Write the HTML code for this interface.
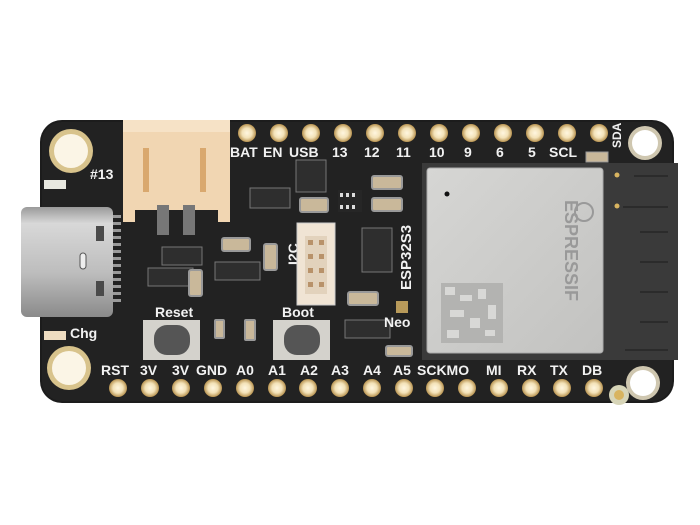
<!DOCTYPE html>
<html><head><meta charset="utf-8"><style>
html,body{margin:0;padding:0;background:#fff;width:700px;height:525px;overflow:hidden}
svg{display:block}
.l{font-family:"Liberation Sans",sans-serif;font-weight:bold;fill:#f2f2f2;font-size:14px}
</style></head><body>
<svg width="700" height="525" viewBox="0 0 700 525" xmlns="http://www.w3.org/2000/svg">
<defs>
<radialGradient id="pad" cx="50%" cy="50%" r="50%"><stop offset="0" stop-color="#fff6e0"/><stop offset="0.55" stop-color="#f3e2b8"/><stop offset="1" stop-color="#b89350"/></radialGradient>
<linearGradient id="usb" x1="0" y1="0" x2="0" y2="1"><stop offset="0" stop-color="#9a9a9a"/><stop offset="0.15" stop-color="#d8d8d8"/><stop offset="0.6" stop-color="#bdbdbd"/><stop offset="1" stop-color="#8a8a8a"/></linearGradient>
<linearGradient id="can" x1="0" y1="0" x2="1" y2="1"><stop offset="0" stop-color="#d6d6d4"/><stop offset="1" stop-color="#c2c2c0"/></linearGradient>
</defs>
<rect x="40" y="120" width="634" height="283" rx="22" fill="#1c1c1c"/>
<rect x="42" y="122" width="630" height="279" rx="20" fill="#222"/>
<g>
<circle cx="71" cy="151" r="22" fill="#d8c38c"/><circle cx="71" cy="151" r="17" fill="#fbf5e6"/>
<circle cx="69" cy="368" r="22" fill="#d8c38c"/><circle cx="69" cy="368" r="17" fill="#fbf5e6"/>
<circle cx="645" cy="143" r="17" fill="#cfc7b0"/><circle cx="645" cy="143" r="13" fill="#fff"/>
<circle cx="643" cy="383" r="17" fill="#cfc7b0"/><circle cx="643" cy="383" r="13" fill="#fff"/>
<circle cx="619" cy="395" r="10" fill="#d7d5b8"/><circle cx="619" cy="395" r="5" fill="#d8b460"/>
</g>
<g fill="url(#pad)">
<circle cx="247" cy="133" r="9"/><circle cx="279" cy="133" r="9"/><circle cx="311" cy="133" r="9"/><circle cx="343" cy="133" r="9"/><circle cx="375" cy="133" r="9"/><circle cx="407" cy="133" r="9"/><circle cx="439" cy="133" r="9"/><circle cx="471" cy="133" r="9"/><circle cx="503" cy="133" r="9"/><circle cx="535" cy="133" r="9"/><circle cx="567" cy="133" r="9"/><circle cx="599" cy="133" r="9"/>
</g>
<g fill="url(#pad)">
<circle cx="118" cy="388" r="9"/><circle cx="150" cy="388" r="9"/><circle cx="181" cy="388" r="9"/><circle cx="213" cy="388" r="9"/><circle cx="245" cy="388" r="9"/><circle cx="277" cy="388" r="9"/><circle cx="308" cy="388" r="9"/><circle cx="340" cy="388" r="9"/><circle cx="372" cy="388" r="9"/><circle cx="404" cy="388" r="9"/><circle cx="435" cy="388" r="9"/><circle cx="467" cy="388" r="9"/><circle cx="499" cy="388" r="9"/><circle cx="531" cy="388" r="9"/><circle cx="562" cy="388" r="9"/><circle cx="594" cy="388" r="9"/>
</g>
<!-- chips (drawn before labels) -->
<g fill="#2e2e2e" stroke="#777" stroke-width="1">
<rect x="250" y="188" width="40" height="20"/><rect x="162" y="247" width="40" height="18"/><rect x="148" y="268" width="45" height="18"/><rect x="215" y="262" width="45" height="18"/>
<rect x="296" y="160" width="30" height="32"/><rect x="362" y="228" width="30" height="44"/><rect x="345" y="320" width="45" height="18"/>
</g>
<g class="l">
<text x="230" y="157">BAT</text><text x="263" y="157">EN</text><text x="289" y="157">USB</text><text x="332" y="157">13</text><text x="364" y="157">12</text><text x="396" y="157">11</text>
<text x="429" y="157">10</text><text x="464" y="157">9</text><text x="496" y="157">6</text><text x="528" y="157">5</text><text x="549" y="157">SCL</text>
<text transform="translate(621,148) rotate(-90)" font-size="12">SDA</text>
<text x="90" y="179">#13</text><text x="70" y="338">Chg</text>
<text x="155" y="317">Reset</text><text x="282" y="317">Boot</text>
<text x="384" y="327">Neo</text>
<text transform="translate(298,265) rotate(-90)">I2C</text>
<text transform="translate(411,290) rotate(-90)" font-size="15">ESP32S3</text>
</g>
<g class="l" font-size="15">
<text x="101" y="375">RST</text><text x="140" y="375">3V</text><text x="172" y="375">3V</text><text x="196" y="375">GND</text><text x="236" y="375">A0</text><text x="268" y="375">A1</text><text x="300" y="375">A2</text><text x="331" y="375">A3</text><text x="363" y="375">A4</text><text x="393" y="375">A5</text><text x="417" y="375">SCKMO</text><text x="486" y="375">MI</text><text x="517" y="375">RX</text><text x="550" y="375">TX</text><text x="582" y="375">DB</text>
</g>
<rect x="21" y="207" width="92" height="110" rx="6" fill="url(#usb)"/>
<rect x="96" y="226" width="8" height="15" fill="#4a4a4a"/><rect x="96" y="281" width="8" height="15" fill="#4a4a4a"/>
<rect x="80" y="253" width="6" height="16" rx="3" fill="#eee" stroke="#555"/>
<g fill="#9a9a9a"><rect x="113" y="215" width="8" height="3"/><rect x="113" y="222" width="8" height="3"/><rect x="113" y="229" width="8" height="3"/><rect x="113" y="236" width="8" height="3"/><rect x="113" y="243" width="8" height="3"/><rect x="113" y="250" width="8" height="3"/><rect x="113" y="257" width="8" height="3"/><rect x="113" y="264" width="8" height="3"/><rect x="113" y="271" width="8" height="3"/><rect x="113" y="278" width="8" height="3"/><rect x="113" y="285" width="8" height="3"/><rect x="113" y="292" width="8" height="3"/><rect x="113" y="299" width="8" height="3"/></g>
<rect x="44" y="180" width="22" height="9" fill="#e8e8e0"/><rect x="44" y="331" width="22" height="9" fill="#eedcc0"/>
<rect x="123" y="120" width="107" height="90" fill="#f1d6b2"/>
<rect x="123" y="120" width="107" height="12" fill="#f6e2c6"/>
<rect x="143" y="148" width="6" height="44" fill="#d9a86e"/><rect x="200" y="148" width="6" height="44" fill="#d9a86e"/>
<rect x="123" y="200" width="12" height="22" fill="#f1d6b2"/><rect x="218" y="200" width="12" height="22" fill="#f1d6b2"/>
<rect x="157" y="205" width="12" height="30" fill="#777"/><rect x="183" y="205" width="12" height="30" fill="#777"/>
<g fill="#c9b89a" stroke="#999" stroke-width="2">
<rect x="300" y="198" width="28" height="14" rx="2"/><rect x="222" y="238" width="28" height="13" rx="2"/><rect x="264" y="244" width="13" height="26" rx="2"/>
<rect x="189" y="270" width="13" height="26" rx="2"/><rect x="372" y="176" width="30" height="13" rx="2"/><rect x="372" y="198" width="30" height="13" rx="2"/>
<rect x="348" y="292" width="30" height="13" rx="2"/><rect x="215" y="320" width="9" height="18" rx="1"/><rect x="245" y="320" width="10" height="20" rx="1"/><rect x="386" y="346" width="26" height="10" rx="2"/>
</g>
<g fill="#ddd"><rect x="338" y="190" width="24" height="22" fill="#262626"/><rect x="340" y="193" width="3" height="4"/><rect x="346" y="193" width="3" height="4"/><rect x="352" y="193" width="3" height="4"/><rect x="340" y="205" width="3" height="4"/><rect x="346" y="205" width="3" height="4"/><rect x="352" y="205" width="3" height="4"/></g>
<rect x="396" y="301" width="12" height="12" fill="#b89a5a"/>
<rect x="297" y="223" width="38" height="82" fill="#f0e4d4" stroke="#ccc"/>
<rect x="305" y="236" width="22" height="58" fill="#e2d2bc"/>
<g fill="#b8926a"><rect x="308" y="240" width="5" height="5"/><rect x="319" y="240" width="5" height="5"/><rect x="308" y="254" width="5" height="5"/><rect x="319" y="254" width="5" height="5"/><rect x="308" y="268" width="5" height="5"/><rect x="319" y="268" width="5" height="5"/><rect x="308" y="282" width="5" height="5"/><rect x="319" y="282" width="5" height="5"/></g>
<rect x="143" y="320" width="57" height="40" fill="#d4d2cc"/><rect x="154" y="325" width="36" height="30" rx="13" fill="#555"/>
<rect x="273" y="320" width="57" height="40" fill="#d4d2cc"/><rect x="284" y="325" width="36" height="30" rx="13" fill="#555"/>
<rect x="422" y="163" width="256" height="197" fill="#3a3a3a"/>
<rect x="427" y="168" width="176" height="185" rx="3" fill="url(#can)" stroke="#aaa"/>
<circle cx="447" cy="194" r="2.5" fill="#111"/>
<rect x="441" y="283" width="62" height="60" fill="#b3b3b1"/>
<g fill="#d8d8d6"><rect x="445" y="287" width="10" height="8"/><rect x="460" y="295" width="12" height="6"/><rect x="478" y="289" width="8" height="10"/><rect x="450" y="310" width="14" height="7"/><rect x="470" y="318" width="10" height="10"/><rect x="488" y="305" width="8" height="14"/><rect x="447" y="330" width="12" height="8"/><rect x="485" y="330" width="10" height="6"/></g>
<text transform="translate(565,200) rotate(90)" font-family="Liberation Sans,sans-serif" font-size="18" fill="#999" font-weight="bold">ESPRESSIF</text>
<circle cx="584" cy="212" r="9" fill="none" stroke="#999" stroke-width="2"/>
<g stroke="#2b2b2b" stroke-width="2"><line x1="634" y1="176" x2="668" y2="176"/><line x1="623" y1="207" x2="668" y2="207"/><line x1="640" y1="232" x2="668" y2="232"/><line x1="640" y1="262" x2="668" y2="262"/><line x1="640" y1="292" x2="668" y2="292"/><line x1="640" y1="322" x2="668" y2="322"/><line x1="625" y1="350" x2="668" y2="350"/></g>
<circle cx="617" cy="175" r="2.5" fill="#d8b460"/><circle cx="617" cy="206" r="2.5" fill="#d8b460"/>
<rect x="586" y="152" width="22" height="10" fill="#c9b89a" stroke="#999"/>
</svg>
</body></html>
